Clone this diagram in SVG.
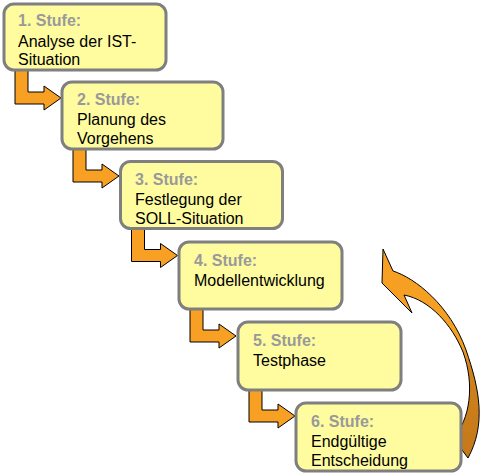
<svg xmlns="http://www.w3.org/2000/svg" width="490" height="476" viewBox="0 0 490 476">
<defs>
<style>
.box{fill:#FFFCA0;stroke:#7F7F7F;stroke-width:3}
.t{font-family:"Liberation Sans",Arial,sans-serif;font-size:16px;fill:#000}
.h{font-weight:bold;fill:#999999}
.arr{fill:#F7A023;stroke:#000;stroke-width:1;stroke-linejoin:miter}
</style>
<linearGradient id="cg" gradientUnits="userSpaceOnUse" x1="0" y1="249" x2="0" y2="458">
<stop offset="0" stop-color="#F8A024"/>
<stop offset="0.47" stop-color="#F3A021"/>
<stop offset="0.56" stop-color="#D0821C"/>
<stop offset="1" stop-color="#C47818"/>
</linearGradient>
</defs>
<rect x="0" y="0" width="490" height="476" fill="#fff"/>
<g id="connectors">
<path class="arr" d="M15,70 L28,70 L28,92 L44,92 L44,86 L61,98 L44,110 L44,104 L15,104 Z"/>
<path class="arr" d="M73,148 L86,148 L86,170 L102,170 L102,164 L119,176 L102,188 L102,182 L73,182 Z"/>
<path class="arr" d="M131.5,228 L144.5,228 L144.5,249.5 L160.5,249.5 L160.5,243.5 L177.5,255.5 L160.5,267.5 L160.5,261.5 L131.5,261.5 Z"/>
<path class="arr" d="M190,308 L203,308 L203,330 L219,330 L219,324 L236,336 L219,348 L219,342 L190,342 Z"/>
<path class="arr" d="M249,388 L262,388 L262,410 L278,410 L278,404 L295,416 L278,428 L278,422 L249,422 Z"/>
<path d="M383,249 L393,271 C415,278 450,305 466,350 C480,390 486,425 468,458 L453,438 C470,420 475,385 463,352 C452,325 430,300 404,295 L412,313 L382,283 Z" fill="url(#cg)" stroke="#000" stroke-width="1"/>
</g>
<g id="stufe1">
<rect class="box" x="4" y="4" width="162" height="66" rx="10"/>
<text class="t h" x="18" y="26">1. Stufe:</text>
<text class="t" x="18" y="47">Analyse der IST-</text>
<text class="t" x="18" y="65">Situation</text>
</g>
<g id="stufe2">
<rect class="box" x="62" y="82" width="161" height="67" rx="10"/>
<text class="t h" x="77" y="105">2. Stufe:</text>
<text class="t" x="77" y="125">Planung des</text>
<text class="t" x="77" y="144">Vorgehens</text>
</g>
<g id="stufe3">
<rect class="box" x="120.5" y="161.5" width="162" height="67" rx="10"/>
<text class="t h" x="135" y="185">3. Stufe:</text>
<text class="t" x="135" y="205">Festlegung der</text>
<text class="t" x="135" y="224">SOLL-Situation</text>
</g>
<g id="stufe4">
<rect class="box" x="179" y="242" width="163" height="67" rx="10"/>
<text class="t h" x="194" y="266">4. Stufe:</text>
<text class="t" x="194" y="286">Modellentwicklung</text>
</g>
<g id="stufe5">
<rect class="box" x="238" y="322" width="163" height="68" rx="10"/>
<text class="t h" x="253" y="346">5. Stufe:</text>
<text class="t" x="253" y="366">Testphase</text>
</g>
<g id="stufe6">
<rect class="box" x="296" y="403" width="165" height="68" rx="10"/>
<text class="t h" x="311" y="427">6. Stufe:</text>
<text class="t" x="311" y="447">Endgültige</text>
<text class="t" x="311" y="466">Entscheidung</text>
</g>
</svg>
